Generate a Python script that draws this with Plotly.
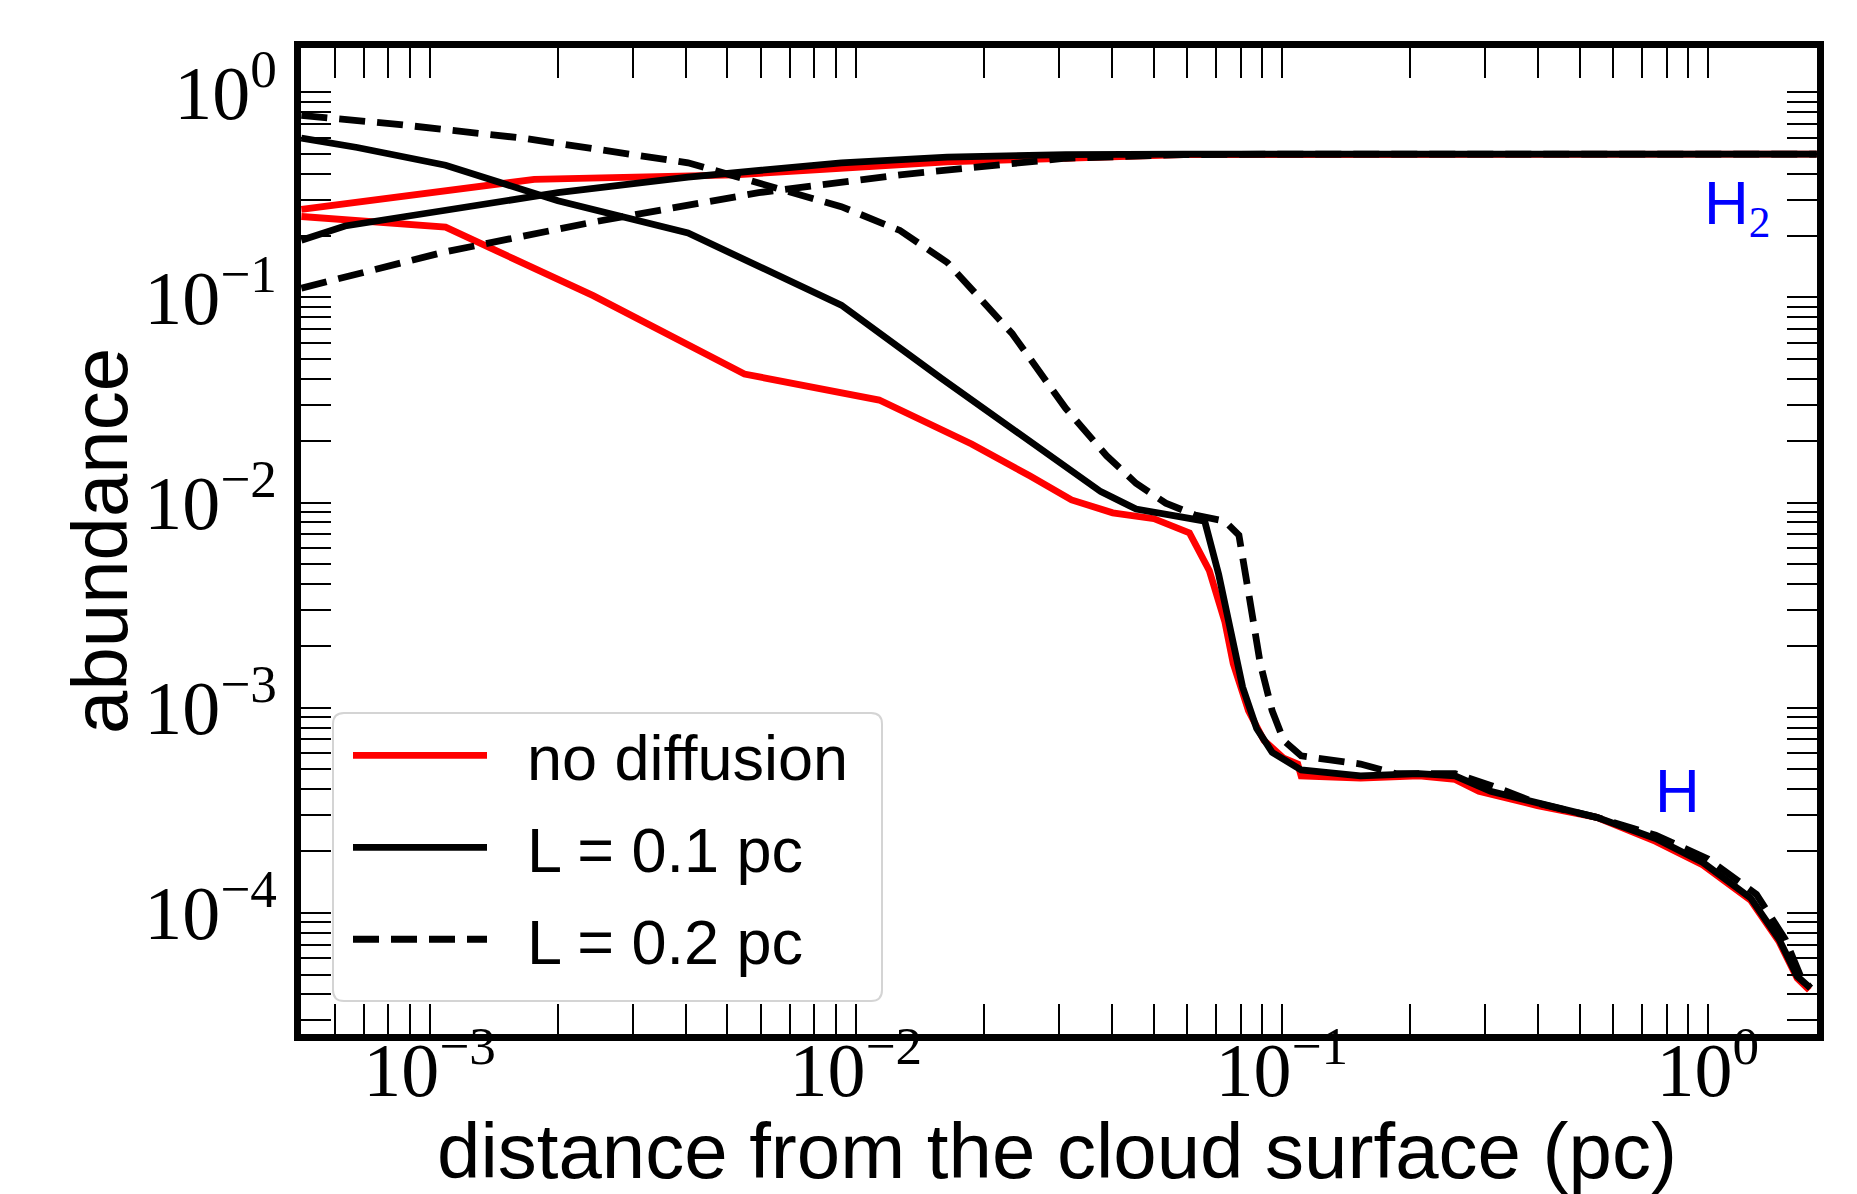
import numpy as np
import plotly.graph_objects as go

# ---------------- data ----------------
# no diffusion (red)
nd_h2_x = [5.0e-4, 1.76e-3, 5.21e-3, 1.64e-2, 5.88e-2, 0.21, 1.80]
nd_h2_y = [0.269, 0.376, 0.396, 0.458, 0.497, 0.5, 0.5]
nd_h_x = [5.0e-4, 1.09e-3, 2.42e-3, 5.48e-3, 1.135e-2, 1.87e-2, 2.56e-2, 3.21e-2,
          4.01e-2, 5.01e-2, 6.07e-2, 6.76e-2, 7.35e-2, 7.69e-2, 8.35e-2, 9.08e-2,
          0.101, 0.109, 0.111, 0.153, 0.21, 0.255, 0.29, 0.398, 0.548, 0.754,
          0.973, 1.26, 1.47, 1.62, 1.73]
nd_h_y = [0.248, 0.220, 0.102, 0.0423, 0.0316, 0.0193, 0.0135, 0.0103,
          0.00891, 0.00834, 0.00711, 0.00465, 0.00262, 0.00164, 0.000966, 0.000692,
          0.000567, 0.000531, 0.000465, 0.000453, 0.000465, 0.000447, 0.000391,
          0.000333, 0.000292, 0.000223, 0.000171, 0.000115, 7.21e-5, 4.8e-5, 4.2e-5]

# L = 0.1 pc (solid black)
l1_h2_x = [5.0e-4, 6.33e-4, 1.09e-3, 2.0e-3, 4.04e-3, 9.25e-3, 1.64e-2, 3.11e-2, 5.88e-2, 1.80]
l1_h2_y = [0.19, 0.223, 0.266, 0.324, 0.386, 0.453, 0.483, 0.497, 0.5, 0.5]
l1_h_x = [5.0e-4, 6.76e-4, 1.09e-3, 2.0e-3, 4.04e-3, 9.25e-3, 1.59e-2, 2.41e-2, 3.76e-2,
          4.55e-2, 5.88e-2, 6.59e-2, 7.11e-2, 7.59e-2, 8.09e-2, 8.73e-2, 9.49e-2,
          0.111, 0.153, 0.21, 0.255, 0.309, 0.398, 0.548, 0.754, 0.973, 1.26,
          1.47, 1.62, 1.74]
l1_h_y = [0.598, 0.538, 0.441, 0.296, 0.206, 0.0917, 0.0402, 0.0220, 0.0113,
          0.00929, 0.00846, 0.00812, 0.00446, 0.00245, 0.00126, 0.000791, 0.000606,
          0.000497, 0.000465, 0.000477, 0.000465, 0.000391, 0.000342, 0.000292,
          0.000230, 0.000176, 0.000118, 7.4e-5, 4.9e-5, 4.3e-5]

# L = 0.2 pc (dashed black)
l2_h2_x = [5.0e-4, 1.09e-3, 2.42e-3, 5.92e-3, 1.27e-2, 3.11e-2, 5.88e-2, 0.111, 1.80]
l2_h2_y = [0.111, 0.167, 0.233, 0.324, 0.396, 0.477, 0.497, 0.5, 0.5]
l2_h_x = [5.0e-4, 8.19e-4, 1.65e-3, 4.04e-3, 5.92e-3, 9.25e-3, 1.27e-2, 1.64e-2,
          2.33e-2, 3.11e-2, 3.88e-2, 4.55e-2, 5.34e-2, 6.26e-2, 7.35e-2, 7.93e-2,
          8.35e-2, 8.90e-2, 9.49e-2, 0.101, 0.111, 0.135, 0.153, 0.185, 0.255,
          0.309, 0.398, 0.548, 0.754, 1.00, 1.30, 1.52, 1.65, 1.74]
l2_h_y = [0.771, 0.702, 0.598, 0.453, 0.361, 0.277, 0.212, 0.148,
          0.0665, 0.0288, 0.0169, 0.0124, 0.00993, 0.00869, 0.00812, 0.00693,
          0.00366, 0.00164, 0.000966, 0.000692, 0.000582, 0.000552, 0.000531,
          0.000477, 0.000477, 0.000418, 0.000342, 0.000292, 0.000239, 0.000183,
          0.000123, 7.4e-5, 4.9e-5, 4.3e-5]

series_names = ["no diffusion", "L = 0.1 pc", "L = 0.2 pc"]

x_decade_exps = [-4, -3, -2, -1, 0]
x_decade_labels = ["10<sup>−4</sup>", "10<sup>−3</sup>", "10<sup>−2</sup>",
                   "10<sup>−1</sup>", "10<sup>0</sup>"]
y_decade_exps = [-5, -4, -3, -2, -1, 0]
y_decade_labels = ["10<sup>−5</sup>", "10<sup>−4</sup>", "10<sup>−3</sup>",
                   "10<sup>−2</sup>", "10<sup>−1</sup>", "10<sup>0</sup>"]

x_lim = (4.99e-4, 1.803)
y_lim = (2.565e-5, 1.644)

# ---------------- figure ----------------
# page is offset by the 8px body margin; plot frame wanted at x 301..1817, y 48..1034
OFF = 8
W, H = 1849, 1186
PL, PR, PT, PB = 301, 1817, 48, 1034          # plot frame in page pixels
ML, MT = PL - OFF, PT - OFF
MR, MB = W + OFF - PR, H + OFF - PB
PW, PH = PR - PL, PB - PT


def px(xp):   # page x pixel -> paper
    return (xp - PL) / PW


def py(yp):   # page y pixel -> paper
    return (PB - yp) / PH


fig = go.Figure()
LW = 6.8
DASH = "26px,12px"


def add(x, y, color, dash, name, show):
    fig.add_trace(go.Scatter(x=x, y=y, mode="lines",
                             line=dict(color=color, width=LW, dash=dash),
                             name="\u00a0\u00a0" + name, legendgroup=name, showlegend=show))


add(nd_h2_x, nd_h2_y, "#ff0000", "solid", series_names[0], True)
add(nd_h_x, nd_h_y, "#ff0000", "solid", series_names[0], False)
add(l1_h2_x, l1_h2_y, "#000000", "solid", series_names[1], True)
add(l1_h_x, l1_h_y, "#000000", "solid", series_names[1], False)
add(l2_h2_x, l2_h2_y, "#000000", DASH, series_names[2], True)
add(l2_h_x, l2_h_y, "#000000", DASH, series_names[2], False)


def log_ticks(exps, labels, lo, hi):
    vals, texts = [], []
    for e, lab in zip(exps, labels):
        for m in range(1, 10):
            v = m * 10.0 ** e
            if lo * 1.01 < v < hi * 0.99:
                vals.append(v)
                texts.append(lab if m == 1 else "")
    return vals, texts


xtv, xtt = log_ticks(x_decade_exps, x_decade_labels, *x_lim)
ytv, ytt = log_ticks(y_decade_exps, y_decade_labels, *y_lim)

serif = "Liberation Serif, DejaVu Serif, serif"
tickfont = dict(family=serif, size=76, color="black")
axis_common = dict(type="log", showgrid=False, zeroline=False, showline=True,
                   linecolor="black", linewidth=7, mirror="allticks",
                   ticks="inside", ticklen=30, tickwidth=2, tickcolor="black",
                   tickmode="array", tickfont=tickfont)

fig.update_xaxes(range=[np.log10(x_lim[0]), np.log10(x_lim[1])],
                 tickvals=xtv, ticktext=xtt, ticklabelstandoff=-36, **axis_common)
fig.update_yaxes(range=[np.log10(y_lim[0]), np.log10(y_lim[1])],
                 tickvals=ytv, ticktext=ytt, ticklabelstandoff=2, **axis_common)

sans = "Liberation Sans, Arial, Helvetica, sans-serif"
annotations = [
    dict(text="H<sub><span style=\"font-family:'Liberation Serif', serif\">2</span></sub>",
         x=np.log10(1.17), y=np.log10(0.277), xref="x", yref="y",
         showarrow=False, font=dict(family=sans, size=62, color="#0000ff")),
    dict(text="H", x=np.log10(0.85), y=np.log10(3.95e-4), xref="x", yref="y",
         showarrow=False, font=dict(family=sans, size=62, color="#0000ff")),
    dict(text="abundance", x=px(100), y=0.5, xref="paper", yref="paper",
         textangle=-90, showarrow=False, xanchor="center", yanchor="middle",
         font=dict(family=sans, size=78, color="black")),
    dict(text="distance from the cloud surface (pc)", x=px(1057), y=py(1151),
         xref="paper", yref="paper", showarrow=False, xanchor="center", yanchor="middle",
         font=dict(family=sans, size=78, color="black")),
]

# legend frame (rounded box) drawn as a shape under the legend entries
bx0, by0, bx1, by1, r = px(333), py(713), px(882), py(1001), 11
rx, ry = r / PW, r / PH
box_path = (f"M {bx0 + rx} {by0} L {bx1 - rx} {by0} Q {bx1} {by0} {bx1} {by0 - ry} "
            f"L {bx1} {by1 + ry} Q {bx1} {by1} {bx1 - rx} {by1} "
            f"L {bx0 + rx} {by1} Q {bx0} {by1} {bx0} {by1 + ry} "
            f"L {bx0} {by0 - ry} Q {bx0} {by0} {bx0 + rx} {by0} Z")
shapes = [dict(type="path", path=box_path, xref="paper", yref="paper", layer="above",
               fillcolor="rgba(255,255,255,0.85)", line=dict(color="#d4d4d4", width=2))]

fig.update_layout(
    width=W, height=H, autosize=False,
    margin=dict(l=ML, r=MR, t=MT, b=MB, pad=0),
    plot_bgcolor="white", paper_bgcolor="white",
    annotations=annotations, shapes=shapes,
    legend=dict(x=px(348), y=py(708), xanchor="left", yanchor="top",
                bgcolor="rgba(0,0,0,0)", borderwidth=0,
                font=dict(family=sans, size=63, color="black"),
                traceorder="grouped", tracegroupgap=7, itemwidth=134),
)

fig.write_html("out.html")
